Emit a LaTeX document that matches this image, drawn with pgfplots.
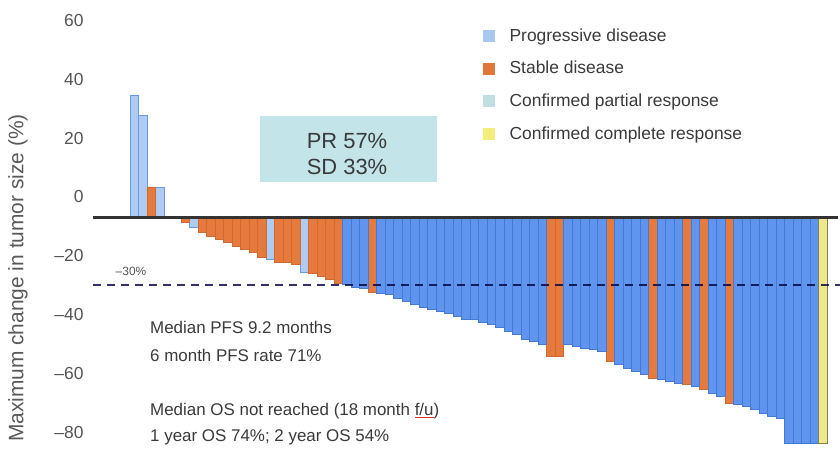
\documentclass[border=0pt]{standalone}
\usepackage{fontspec}
\setmainfont{Liberation Sans}
\usepackage{pgfplots}
\usepackage{pgfplotstable}
\pgfplotsset{compat=1.18}

\definecolor{pdfill}{HTML}{AECBF3}
\definecolor{pdedge}{HTML}{6C9AE2}
\definecolor{sdfill}{HTML}{E57A3C}
\definecolor{sdedge}{HTML}{CF6A32}
\definecolor{prfill}{HTML}{5F95EE}
\definecolor{predge}{HTML}{4679D2}
\definecolor{crfill}{HTML}{EFE88A}
\definecolor{credge}{HTML}{7E8450}
\definecolor{legpd}{HTML}{A9C7EF}
\definecolor{legsd}{HTML}{E0773A}
\definecolor{legpr}{HTML}{BFDFE3}
\definecolor{legcr}{HTML}{F3EF7A}
\definecolor{boxfill}{HTML}{C3E4E8}
\definecolor{txt}{HTML}{3A3A3A}
\definecolor{tickgray}{HTML}{555555}
\definecolor{spell}{HTML}{D93030}

% best change in tumour size per patient, ordered as in the waterfall
\pgfplotstableread{
x y
1 34.7
2 27.6
4 3.1
8 -10.2
17 -21.4
21 -25.5
}\progressive
\pgfplotstableread{
x y
3 3.4
7 -8.8
9 -11.9
10 -13.3
11 -14.3
12 -15.3
13 -16.7
14 -17.7
15 -19.0
16 -20.4
18 -22.1
19 -22.4
20 -23.1
22 -25.9
23 -26.9
24 -28.2
25 -29.3
29 -32.3
50 -54.1
51 -54.4
57 -56.1
62 -61.6
66 -63.9
68 -65.6
71 -70.1
}\stable
\pgfplotstableread{
x y
26 -29.9
27 -30.6
28 -31.0
30 -32.7
31 -33.3
32 -34.4
33 -35.4
34 -36.7
35 -37.4
36 -38.1
37 -38.8
38 -39.5
39 -40.5
40 -41.5
41 -41.8
42 -42.5
43 -43.5
44 -44.2
45 -45.6
46 -46.9
47 -48.3
48 -49.3
49 -50.0
52 -50.2
53 -50.8
54 -51.4
55 -52.0
56 -52.7
58 -57.1
59 -58.2
60 -59.2
61 -60.2
63 -62.2
64 -62.6
65 -63.3
67 -64.3
69 -66.7
70 -68.0
72 -70.7
73 -71.4
74 -72.4
75 -73.5
76 -74.5
77 -75.2
78 -83.7
79 -83.7
80 -83.7
81 -83.7
}\partial
\pgfplotstableread{
x y
82 -83.7
}\complete

% word with a red underline
\newcommand{\redline}[1]{{\setbox0\hbox{#1}\rlap{\textcolor{spell}{\rule[-3bp]{\wd0}{1.5bp}}}\box0}}

\begin{document}
\begin{tikzpicture}[x=1bp,y=1bp]
\useasboundingbox (0,0) rectangle (840,459);
\clip (0,0) rectangle (840,459);

% summary box
\fill[boxfill] (260,277) rectangle (437,343);
\node[text=txt,font=\fontsize{22}{22}\selectfont] at (347,318) {PR 57\%};
\node[text=txt,font=\fontsize{22}{22}\selectfont] at (347,292) {SD 33\%};

\begin{axis}[
  at={(93bp,9.2bp)}, anchor=south west,
  scale only axis, width=745bp, height=435.1bp,
  xmin=-3.853, xmax=83.794,
  ymin=-86, ymax=62,
  % bars grow from the drawn baseline at -7.1
  y coord trafo/.code={\pgfmathparse{#1+7.1}},
  y coord inv trafo/.code={\pgfmathparse{#1-7.1}},
  axis line style={draw=none},
  xtick=\empty,
  ytick={-80,-60,-40,-20,0,20,40,60},
  yticklabels={--80,--60,--40,--20,0,20,40,60},
  major tick length=0pt,
  yticklabel style={font=\fontsize{17.5}{17.5}\selectfont, text=tickgray, xshift=-6bp},
  clip=false,
  legend image code/.code={\fill[#1] (0bp,-5.5bp) rectangle (11bp,5.5bp);},
  legend style={at={(axis description cs:0.5235,0.973)}, anchor=north west,
    draw=none, fill=none, inner sep=0pt,
    font=\fontsize{17.5}{17.5}\selectfont, text=txt,
    row sep=14.5bp, column sep=13bp},
  legend cell align=left,
  bars/.style={ybar, bar width=1, bar shift=0pt, line width=0.8bp, forget plot},
]
\addlegendimage{legpd}
\addlegendentry{Progressive disease}
\addlegendimage{legsd}
\addlegendentry{Stable disease}
\addlegendimage{legpr}
\addlegendentry{Confirmed partial response}
\addlegendimage{legcr}
\addlegendentry{Confirmed complete response}

\addplot[bars, fill=pdfill, draw=pdedge] table[x=x,y=y] {\progressive};
\addplot[bars, fill=sdfill, draw=sdedge] table[x=x,y=y] {\stable};
\addplot[bars, fill=prfill, draw=predge] table[x=x,y=y] {\partial};
\addplot[bars, fill=crfill, draw=credge] table[x=x,y=y] {\complete};

% baseline
\addplot[forget plot, color=black!80, line width=3bp] coordinates {(-3.853,-7.1) (83.794,-7.1)};
% -30% threshold
\addplot[forget plot, color=black!75!blue, opacity=0.8, line width=2.5bp, dash pattern=on 8bp off 6bp] coordinates {(-3.853,-30) (84.2,-30)};
\end{axis}

\node[text=tickgray, font=\fontsize{12}{12}\selectfont] at (131,188) {--30\%};
\node[rotate=90, text=black!65, font=\fontsize{21}{21}\selectfont] at (18,181) {Maximum change in tumor size (\%)};

\begin{scope}[every node/.style={anchor=west, text=txt, font=\fontsize{17}{17}\selectfont, inner sep=0pt}]
\node at (150,132) {Median PFS 9.2 months};
\node at (150,104) {6 month PFS rate 71\%};
\node at (150,48) {Median OS not reached (18 month \redline{f/u})};
\node at (150,22) {1 year OS 74\%; 2 year OS 54\%};
\end{scope}
\end{tikzpicture}
\end{document}
